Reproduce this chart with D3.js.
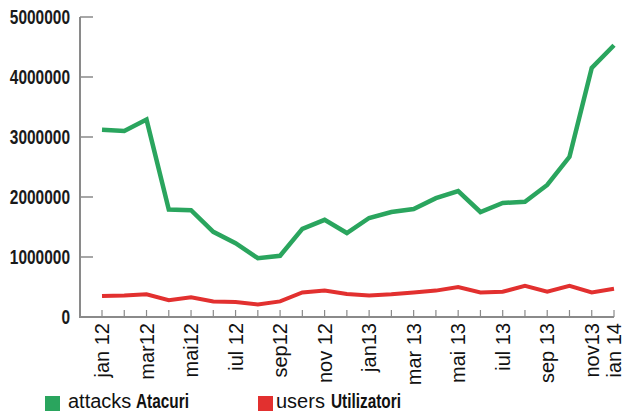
<!DOCTYPE html>
<html>
<head>
<meta charset="utf-8">
<script src="https://cdn.jsdelivr.net/npm/d3@7"></script>
<style>
  body { margin: 0; background: #fff; }
  svg { display: block; }
  .ylab { font-family: "Liberation Sans", Arial, sans-serif; font-weight: bold; font-size: 19.5px; fill: #1a1a1a; }
  .xlab { font-family: "Liberation Sans", Arial, sans-serif; font-size: 20px; fill: #111; }
  .leg { font-family: "Liberation Sans", Arial, sans-serif; font-size: 20px; fill: #111; }
  .legb { font-family: "Liberation Sans", Arial, sans-serif; font-weight: bold; font-size: 20px; fill: #111; }
</style>
</head>
<body>
<div id="chart"></div>
<script>
var months = ["jan 12","feb 12","mar 12","apr 12","mai 12","iun 12","iul 12","aug 12","sep 12","oct 12","nov 12","dec 12",
	"jan 13","feb 13","mar 13","apr 13","mai 13","iun 13","iul 13","aug 13","sep 13","oct 13","nov 13","dec 13"];

// labels shown under the axis (index into months, text)
var tick_labels = [[0,"jan 12"],[2,"mar12"],[4,"mai12"],[6,"iul 12"],[8,"sep12"],[10,"nov 12"],
	[12,"jan13"],[14,"mar 13"],[16,"mai 13"],[18,"iul 13"],[20,"sep 13"],[22,"nov13"],[23,"ian 14"]];

var attacks = [3120000, 3100000, 3290000, 1790000, 1780000, 1420000, 1230000, 980000, 1020000, 1470000, 1620000, 1400000,
	1650000, 1750000, 1800000, 1980000, 2100000, 1750000, 1900000, 1920000, 2200000, 2670000, 4150000, 4530000];

var users = [350000, 360000, 380000, 280000, 330000, 260000, 250000, 210000, 260000, 410000, 440000, 385000,
	360000, 380000, 410000, 440000, 500000, 410000, 420000, 520000, 420000, 520000, 410000, 470000];

var y_ticks = [0, 1000000, 2000000, 3000000, 4000000, 5000000];

var width = 630, height = 412;

var svg = d3.select("#chart").append("svg")
		.attr("width", width)
		.attr("height", height);

var x = d3.scalePoint()
		.domain(d3.range(months.length))
		.range([102, 614]);

var y = d3.scaleLinear()
		.domain([0, 5000000])
		.range([317, 17]);

// y axis
svg.append("line")
		.attr("x1", 80).attr("x2", 80)
		.attr("y1", y(5000000)).attr("y2", y(0))
		.attr("stroke", "#8a8a8a")
		.attr("stroke-width", 2);

svg.selectAll(".ytick")
		.data(y_ticks.slice(1))
	.enter().append("line")
		.attr("class", "ytick")
		.attr("x1", 80).attr("x2", 93)
		.attr("y1", function(d){ return y(d); })
		.attr("y2", function(d){ return y(d); })
		.attr("stroke", "#8a8a8a")
		.attr("stroke-width", 1.5);

// condensed bold numbers
svg.selectAll(".ylab")
		.data(y_ticks)
	.enter().append("text")
		.attr("class", "ylab")
		.attr("x", 70)
		.attr("y", function(d){ return y(d); })
		.attr("dy", "0.36em")
		.attr("text-anchor", "end")
		.attr("textLength", function(d){ return String(d).length * 8.6; })
		.attr("lengthAdjust", "spacingAndGlyphs")
		.text(function(d){ return d; });

// x axis
svg.append("line")
		.attr("x1", 79).attr("x2", x(23))
		.attr("y1", y(0)).attr("y2", y(0))
		.attr("stroke", "#8a8a8a")
		.attr("stroke-width", 2);

svg.selectAll(".xtick")
		.data(d3.range(months.length))
	.enter().append("line")
		.attr("class", "xtick")
		.attr("x1", function(d){ return x(d); })
		.attr("x2", function(d){ return x(d); })
		.attr("y1", y(0) - 7).attr("y2", y(0))
		.attr("stroke", "#8a8a8a")
		.attr("stroke-width", 1.2);

svg.selectAll(".xlab")
		.data(tick_labels)
	.enter().append("text")
		.attr("class", "xlab")
		.attr("text-anchor", "end")
		.attr("transform", function(d){ return "translate(" + (x(d[0]) + 7) + ",323) rotate(-90)"; })
		.text(function(d){ return d[1]; });

// lines
var line = d3.line()
		.x(function(d, i){ return x(i); })
		.y(function(d){ return y(d); });

svg.append("path")
		.datum(users)
		.attr("fill", "none")
		.attr("stroke", "#e2302f")
		.attr("stroke-width", 4)
		.attr("d", line);

svg.append("path")
		.datum(attacks)
		.attr("fill", "none")
		.attr("stroke", "#2aa55e")
		.attr("stroke-width", 4.5)
		.attr("d", line);

// legend
svg.append("rect").attr("x", 45).attr("y", 396).attr("width", 15).attr("height", 15).attr("fill", "#2aa55e");
svg.append("text").attr("class", "leg").attr("x", 68).attr("y", 408).text("attacks");
svg.append("text").attr("class", "legb").attr("x", 136).attr("y", 408)
		.attr("textLength", 53).attr("lengthAdjust", "spacingAndGlyphs").text("Atacuri");

svg.append("rect").attr("x", 258).attr("y", 396).attr("width", 15).attr("height", 15).attr("fill", "#e2302f");
svg.append("text").attr("class", "leg").attr("x", 276).attr("y", 408).text("users");
svg.append("text").attr("class", "legb").attr("x", 331).attr("y", 408)
		.attr("textLength", 70).attr("lengthAdjust", "spacingAndGlyphs").text("Utilizatori");
</script>
</body>
</html>
